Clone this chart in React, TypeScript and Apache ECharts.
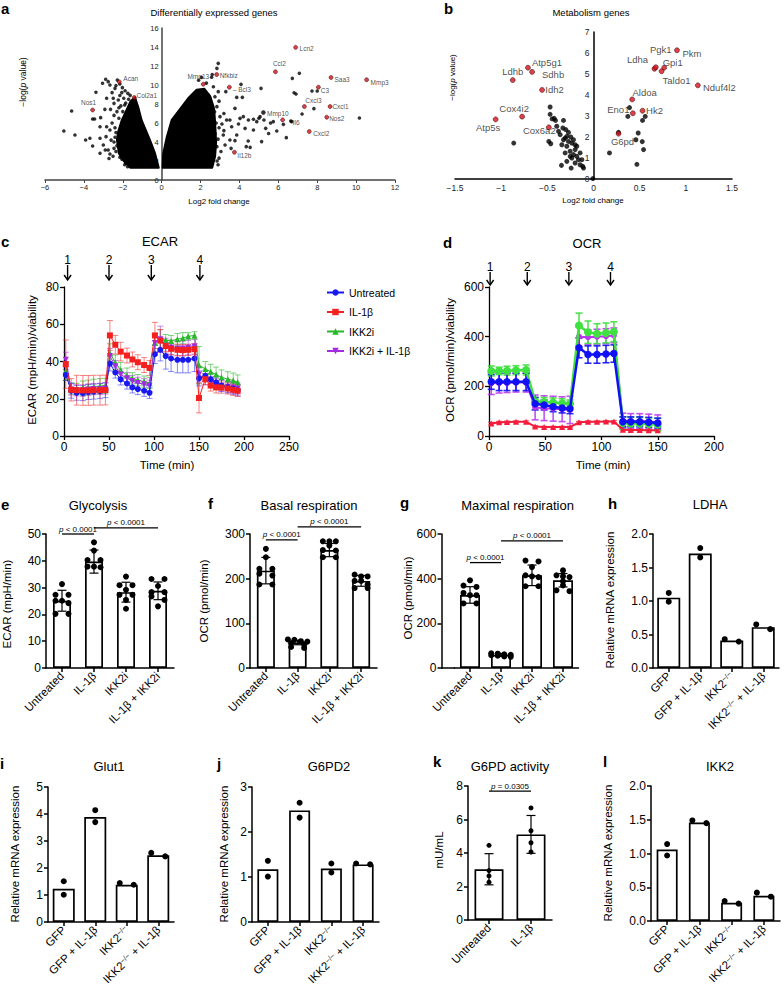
import React, { useEffect, useRef } from "react";
import * as echarts from "echarts";

const FONT = '"Liberation Sans", Arial, Helvetica, sans-serif';

// ================= a: Differentially expressed genes =================
const aDenseLeft = [
  [-0.15, 1.3], [-0.34, 2.8], [-0.6, 4.2], [-1.03, 6.3], [-1.21, 7.7], [-1.37, 8.7],
  [-1.6, 8.3], [-1.8, 7.4], [-2.05, 6.3], [-2.25, 5.0], [-2.3, 4.2], [-2.2, 2.8], [-1.95, 2.0], [-1.62, 1.3],
];
const aDenseRight = [
  [0.05, 1.3], [0.08, 2.8], [0.26, 4.5], [0.51, 6.3], [1.03, 7.7], [1.4, 8.7], [1.8, 9.5],
  [2.2, 9.6], [2.5, 8.8], [2.7, 7.5], [2.75, 6.0], [2.8, 4.0], [2.75, 2.5], [2.6, 1.3],
];
const aBackgroundGenes = [
  [-5.03, 5.16], [-4.63, 7.26], [-4.46, 4.74], [-3.91, 4.21], [-3.69, 4.39], [-3.55, 3.58],
  [-3.55, 6.42], [-3.45, 6.42], [-3.14, 6.56], [-3.38, 9.23], [-3.04, 10.18], [-2.88, 10.6],
  [-2.75, 10.35], [-2.66, 10.0], [-2.4, 9.65], [-2.28, 10.53], [-2.02, 9.72], [-1.88, 9.4],
  [-1.74, 9.12], [-1.62, 8.91], [-2.49, 8.6], [-2.23, 8.42], [-2.83, 8.6], [-2.92, 7.44],
  [-2.63, 7.44], [-2.45, 8.07], [-3.17, 5.61], [-2.83, 5.61], [-2.66, 5.26], [-2.86, 4.56],
  [-3.17, 4.39], [-3.0, 3.68], [-2.75, 3.16], [-2.66, 2.74], [-2.45, 3.33], [-2.9, 3.16],
  [-3.17, 2.81], [-2.71, 2.26], [-2.5, 2.5], [-2.45, 6.8], [-2.3, 7.2], [-2.55, 6.0],
  [-2.4, 5.5], [-2.6, 4.2], [-2.45, 4.0], [-2.35, 3.0], [-2.05, 2.2], [-1.85, 1.8],
  [-2.15, 8.9], [-1.95, 8.6], [-2.1, 7.8], [-1.9, 7.9], [-2.2, 7.6], [-2.05, 9.2],
  [-2.55, 9.2], [-2.15, 10.1], [-2.35, 9.95], [-1.7, 8.5], [-2.35, 5.0], [-2.4, 4.5],
  [-2.3, 3.6], [-2.15, 2.4], [-1.9, 1.6], [-1.75, 1.4], [-2.2, 6.5], [-2.0, 7.2], [-1.85, 8.1],
  [2.91, 12.28], [2.84, 11.75], [2.57, 10.81], [4.08, 10.07], [3.86, 8.7], [4.15, 8.7],
  [2.66, 9.82], [2.91, 9.3], [2.74, 8.77], [2.4, 8.95], [2.48, 8.07], [2.84, 7.72],
  [2.72, 7.19], [3.0, 6.67], [2.4, 6.67], [3.34, 6.32], [3.51, 6.32], [3.77, 7.54],
  [4.03, 6.49], [4.2, 6.67], [4.46, 6.32], [4.72, 6.39], [4.89, 6.14], [5.06, 6.67],
  [5.11, 9.65], [4.29, 5.44], [3.86, 4.74], [3.51, 4.21], [3.77, 4.14], [3.17, 4.74],
  [3.26, 3.68], [2.84, 3.51], [3.57, 3.33], [4.35, 3.51], [4.55, 3.44], [4.72, 5.26],
  [2.95, 5.5], [3.1, 5.9], [2.9, 4.3], [3.05, 3.0], [2.95, 2.3], [3.2, 5.2], [2.3, 10.2],
  [2.6, 11.1], [2.05, 10.8], [1.9, 10.5], [2.95, 8.3], [3.2, 7.0], [3.6, 5.6], [3.95, 5.9],
  [4.45, 4.1], [3.3, 9.3], [2.85, 2.0], [2.9, 1.6], [2.8, 6.0], [2.75, 4.9],
  [7.08, 11.23], [6.72, 10.7], [7.73, 9.37], [8.0, 9.37], [6.81, 9.19], [6.91, 9.05],
  [7.83, 7.51], [10.17, 6.53], [7.22, 6.95], [6.64, 6.21], [6.26, 5.86], [6.41, 4.46],
  [5.92, 5.16], [5.35, 5.44], [5.26, 6.32], [5.14, 4.04], [5.0, 6.5], [5.6, 6.0], [5.5, 4.9],
  [5.74, 6.14], [6.69, 6.14],
];
const aGeneNames = ["Lcn2", "Ccl2", "Saa3", "Mmp3", "C3", "Cxcl3", "Cxcl1", "Nos2", "Il6", "Cxcl2", "Mmp10", "Mmp13", "Nfkbiz", "Bcl3", "Il12b", "Nos1", "Acan", "Col2a1"];
const aGeneLog2FC = [6.89, 5.85, 8.71, 10.54, 8.06, 7.34, 8.66, 8.49, 6.22, 7.59, 5.23, 2.14, 2.83, 3.48, 3.74, -3.55, -2.18, -1.41];
const aGeneNegLogP = [13.96, 11.39, 10.79, 10.55, 9.77, 7.73, 7.73, 6.61, 6.33, 5.1, 7.1, 10.09, 11.1, 9.77, 2.92, 7.37, 10.33, 8.68];
const aUnhighlighted = ["Mmp10"];

// ================= b: Metabolism genes =================
const bBackgroundGenes = [
  [-0.47, 3.43], [-0.47, 3.08], [-0.448, 2.86], [-0.426, 2.89], [-0.412, 2.79], [-0.325, 2.79],
  [-0.332, 2.43], [-0.3, 2.35], [-0.379, 2.27], [-0.361, 2.11], [-0.289, 2.03], [-0.246, 2.0],
  [-0.325, 1.87], [-0.271, 1.79], [-0.235, 1.71], [-0.343, 1.63], [-0.289, 1.56], [-0.307, 1.24],
  [-0.253, 1.32], [-0.199, 1.4], [-0.217, 1.16], [-0.181, 1.08], [-0.235, 1.0], [-0.163, 0.92],
  [-0.289, 0.84], [-0.199, 0.76], [-0.145, 0.68], [-0.116, 0.6], [-0.108, 0.52], [-0.242, 0.52],
  [-0.347, 0.65], [-0.484, 1.79], [-0.463, 1.68], [-0.864, 1.71], [-0.007, 0.02],
  [-0.271, 2.22], [-0.217, 1.87], [-0.181, 1.56], [-0.145, 1.24], [-0.126, 0.92], [-0.253, 1.08],
  [-0.307, 1.95], [-0.398, 2.51], [-0.2, 1.63],
  [0.39, 3.4], [0.372, 2.98], [0.56, 2.98], [0.531, 2.79], [0.271, 2.22], [0.484, 2.19],
  [0.459, 1.87], [0.528, 1.78], [0.542, 1.4], [0.173, 1.24], [0.47, 0.7],
];
const bGeneNames = ["Ldhb", "Atp5g1", "Sdhb", "Idh2", "Cox4i2", "Atp5s", "Cox6a2", "Ldha", "Pgk1", "Gpi1", "Taldo1", "Pkm", "Nduf4l2", "Aldoa", "Eno1", "Hk2", "G6pd"];
const bGeneLog2FC = [-0.875, -0.71, -0.665, -0.557, -0.773, -1.06, -0.484, 0.66, 0.675, 0.766, 0.737, 0.904, 1.13, 0.419, 0.426, 0.531, 0.271];
const bGeneNegLogP = [4.71, 5.3, 5.1, 4.24, 2.97, 2.84, 2.46, 5.25, 5.32, 5.3, 5.13, 6.13, 4.46, 3.79, 3.13, 3.25, 2.16];

// ================= c: ECAR time course =================
const ecarTime = [2, 8, 14, 21, 27, 33, 40, 46, 51, 57, 63, 70, 76, 82, 89, 95, 101, 107, 113, 119, 126, 132, 138, 145, 150, 157, 163, 169, 175, 182, 188, 193];
const ecarUntreated = [32.8, 24.3, 23.2, 23.0, 23.6, 23.8, 24.1, 24.6, 38.9, 34.1, 30.4, 28.2, 26.1, 25.2, 24.3, 23.2, 43.9, 46.3, 42.9, 41.6, 40.9, 40.9, 40.9, 41.6, 30.9, 32.3, 30.4, 28.8, 27.1, 26.1, 25.4, 24.5];
const ecarUntreatedSd = [3, 4, 4, 4, 4, 4, 4, 4, 4, 3, 3, 3, 3, 3, 3, 3, 5, 6, 7, 7, 7, 7, 7, 7, 4, 3, 3, 3, 3, 3, 3, 3];
const ecarIL1b = [38.6, 24.8, 24.6, 24.5, 24.5, 24.6, 24.6, 24.7, 54.0, 49.0, 45.3, 43.2, 41.1, 39.6, 38.1, 36.5, 54.0, 51.2, 48.3, 46.8, 46.3, 46.1, 46.3, 46.6, 20.4, 30.5, 27.1, 26.1, 26.0, 25.5, 24.8, 24.3];
const ecarIL1bSd = [13, 6, 8, 8, 8, 8, 8, 8, 8, 5, 5, 4, 4, 4, 4, 4, 7, 6, 3, 3, 3, 3, 3, 3, 8, 3, 3, 3, 3, 3, 3, 3];
const ecarIKK2i = [35.0, 25.5, 25.3, 25.5, 26.0, 26.5, 26.8, 27.0, 44.5, 39.5, 35.5, 32.5, 31.0, 30.0, 29.2, 28.5, 50.0, 52.0, 51.5, 51.0, 52.0, 52.5, 53.5, 54.0, 38.0, 36.0, 34.5, 33.0, 31.5, 30.5, 29.8, 28.8];
const ecarIKK2iSd = [5, 3, 3, 4, 4, 4, 4, 4, 5, 4, 4, 4, 3, 3, 3, 3, 5, 5, 3, 3, 3, 3, 2, 2, 10, 4, 4, 4, 4, 4, 4, 4];
const ecarCombo = [41.0, 25.0, 24.5, 24.5, 25.0, 25.2, 25.3, 25.5, 43.0, 37.5, 33.0, 31.0, 29.5, 28.5, 27.8, 27.0, 50.0, 52.0, 48.5, 47.5, 47.0, 47.0, 47.5, 48.0, 33.0, 30.5, 29.0, 28.0, 27.0, 26.5, 26.0, 25.5];
const ecarComboSd = [4, 3, 3, 3, 3, 3, 3, 3, 4, 3, 3, 3, 3, 3, 3, 3, 5, 7, 4, 4, 4, 4, 4, 4, 4, 3, 3, 3, 3, 3, 3, 3];
const ecarInjections = [4, 50, 97, 151];
const injectionLabels = ["1", "2", "3", "4"];

// ================= d: OCR time course =================
const ocrTime = [2, 9, 16, 24, 33, 41, 49, 57, 65, 72, 80, 88, 96, 104, 111, 119, 126, 134, 142, 150];
const ocrUntreated = [218, 218, 218, 218, 218, 130, 125, 118, 113, 110, 355, 328, 328, 330, 332, 57, 57, 57, 55, 52];
const ocrUntreatedSd = [30, 35, 35, 35, 35, 25, 20, 20, 20, 20, 40, 35, 35, 35, 35, 20, 20, 20, 20, 20];
const ocrIL1b = [50, 55, 56, 57, 57, 38, 36, 36, 36, 36, 55, 57, 57, 58, 58, 25, 24, 24, 23, 23];
const ocrIL1bSd = [5, 4, 4, 4, 4, 4, 3, 3, 3, 3, 4, 4, 4, 4, 4, 4, 4, 4, 4, 4];
const ocrIKK2i = [262, 262, 263, 265, 266, 140, 137, 135, 132, 130, 445, 418, 412, 415, 420, 52, 50, 50, 48, 46];
const ocrIKK2iSd = [20, 15, 18, 18, 20, 15, 18, 18, 18, 15, 50, 45, 40, 40, 40, 25, 25, 25, 25, 25];
const ocrCombo = [212, 213, 213, 215, 215, 115, 112, 110, 108, 105, 400, 398, 400, 402, 405, 62, 60, 60, 58, 55];
const ocrComboSd = [45, 40, 38, 38, 38, 50, 50, 50, 50, 55, 40, 30, 30, 30, 30, 30, 30, 30, 30, 30];
const ocrInjections = [1, 34, 71, 108];

// ================= e–l: bar panels =================
const treatCats = ["Untreated", "IL-1β", "IKK2i", "IL-1β + IKK2i"];
const genoCats = ["GFP", "GFP + IL-1β", "IKK2−/−", "IKK2−/− + IL-1β"];

const glycoMean = [25.1, 39.7, 28.3, 28.8];
const glycoSd = [3.9, 4.3, 3.7, 3.3];
const glycoPoints = [
  [31.3, 27.3, 27.3, 25.1, 25.1, 24.2, 20.2, 20.2],
  [46.9, 43.8, 40.3, 40.3, 37.8, 37.6, 37.8],
  [34.1, 30.9, 30.9, 29.2, 27.3, 27.3, 25.4, 22.1],
  [33.2, 33.2, 30.6, 28.3, 28.3, 26.7, 25.4, 23.0],
];
const basalMean = [218, 57, 264, 195];
const basalSd = [29.6, 5, 14.8, 12];
const basalPoints = [
  [266.7, 248, 222, 222, 211, 207, 187, 187],
  [64, 63, 60, 59, 56, 53, 47, 45],
  [283.7, 283.7, 283.7, 274, 264, 263, 248, 248],
  [209, 205, 205, 195, 195, 187, 179, 179],
];
const maxMean = [327, 59, 415, 393];
const maxSd = [37, 6, 46, 30];
const maxPoints = [
  [392.6, 369, 363, 336, 326, 326, 289, 289],
  [66, 64, 61, 59, 57, 55, 52, 50],
  [481, 477, 452, 415, 410, 407, 366, 366],
  [437, 415, 410, 407, 388, 370, 348, 344],
];
const ldhaMean = [1.05, 1.71, 0.41, 0.61];
const ldhaPoints = [[1.12, 0.99], [1.79, 1.65], [0.395, 0.43], [0.58, 0.65]];
const glut1Mean = [1.23, 3.89, 1.38, 2.47];
const glut1Points = [[1.51, 1.01], [4.14, 3.7], [1.38, 1.44], [2.43, 2.56]];
const g6pd2Mean = [1.17, 2.48, 1.19, 1.28];
const g6pd2Points = [[1.36, 1.01], [2.65, 2.32], [1.3, 1.1], [1.28, 1.3]];
const g6pdActCats = ["Untreated", "IL-1β"];
const g6pdActMean = [3.03, 5.11];
const g6pdActSd = [0.93, 1.13];
const g6pdActPoints = [[4.46, 2.95, 2.63, 2.26], [6.69, 5.33, 4.61, 4.06]];
const ikk2Mean = [1.06, 1.46, 0.27, 0.375];
const ikk2Points = [[1.14, 0.97], [1.45, 1.49], [0.257, 0.296], [0.36, 0.42]];

const sigBars = [
  { panel: "e", from: 0, to: 1, y: 50, text: "p < 0.0001" },
  { panel: "e", from: 1, to: 3, y: 52.3, text: "p < 0.0001" },
  { panel: "f", from: 0, to: 1, y: 287, text: "p < 0.0001" },
  { panel: "f", from: 1, to: 3, y: 316, text: "p < 0.0001" },
  { panel: "g", from: 0, to: 1, y: 472, text: "p < 0.0001" },
  { panel: "g", from: 1, to: 3, y: 569, text: "p < 0.0001" },
  { panel: "k", from: 0, to: 1, y: 7.7, text: "p = 0.0305" },
];

// ================= layout (label offsets in px) =================
const aLabelOffset: Record<string, number[]> = {
  Lcn2: [11, 1], Ccl2: [4, -8], Saa3: [11, 2], Mmp3: [13, 3], C3: [6.5, 3], Cxcl3: [9, -6],
  Cxcl1: [10.5, 0], Nos2: [10, 1], Il6: [13.5, 3], Cxcl2: [12, 2], Mmp10: [14.5, 1],
  Mmp13: [-5, -8], Nfkbiz: [12, 1], Bcl3: [12.5, 2], Il12b: [10, 3], Nos1: [-4, -7],
  Acan: [11.5, -3], Col2a1: [12.5, -2.5],
};
const aLabelText: Record<string, string> = { Bcl3: "– Bcl3" };
const bLabelOffset: Record<string, number[]> = {
  Ldhb: [0, -9], Atp5g1: [19, -5], Sdhb: [21, 3], Idh2: [12.5, 0], Cox4i2: [-8, -8],
  Atp5s: [-7.5, 8], Cox6a2: [-9.5, 3], Ldha: [-17, -9], Pgk1: [5, -18], Gpi1: [8.5, -5],
  Taldo1: [15, 9], Pkm: [15, 3], Nduf4l2: [21.5, 2], Aldoa: [12.5, -7], Eno1: [-14.5, -3.5],
  Hk2: [12, 0], G6pd: [4, 8],
};

const minus = (v: number) => String(v).replace("-", "−");

function gText(x: number, y: number, text: string, size: number, extra: any = {}) {
  const align = extra.align || "center";
  const va = extra.va || "middle";
  return {
    type: "text",
    x,
    y,
    rotation: extra.rotation || 0,
    silent: true,
    z: 100,
    style: {
      text,
      fill: "#000",
      fontSize: size,
      fontFamily: FONT,
      fontWeight: extra.bold ? "bold" : "normal",
      align,
      verticalAlign: va,
      textAlign: align,
      textVerticalAlign: va,
      rich: extra.rich,
    },
  };
}

function swarm(groups: number[][], thr: number) {
  const out: number[][] = [];
  groups.forEach((vals, ci) => {
    const sorted = [...vals].sort((a, b) => b - a);
    const rows: number[][] = [];
    sorted.forEach((v) => {
      const r = rows[rows.length - 1];
      if (r && r.length < 4 && r[0] - v < thr) r.push(v);
      else rows.push([v]);
    });
    rows.forEach((r) =>
      r.forEach((v, k) => {
        const off = r.length === 2 ? (k === 0 ? -1 : 1) : k - (r.length - 1) / 2;
        out.push([ci, v, off]);
      })
    );
  });
  return out;
}

function buildOption() {
  const grid: any[] = [];
  const xAxis: any[] = [];
  const yAxis: any[] = [];
  const series: any[] = [];
  const graphic: any[] = [];

  const addGrid = (left: number, top: number, width: number, height: number) => {
    grid.push({ left, top, width, height, containLabel: false, outerBoundsMode: "none" });
    return grid.length - 1;
  };
  const blackLine = (w = 1.5, color = "#000") => ({ show: true, lineStyle: { color, width: w } });
  const tick = (len = 4, w = 1.5, color = "#000") => ({ show: true, length: len, lineStyle: { color, width: w } });
  const lab = (size: number, extra: any = {}) => ({ fontSize: size, color: "#000", fontFamily: FONT, margin: 5, ...extra });

  const errSeries = (gi: number, data: number[][], color: string, cap: number, lw: number, z: number) => ({
    type: "custom",
    coordinateSystem: "cartesian2d",
    xAxisIndex: gi,
    yAxisIndex: gi,
    silent: true,
    z,
    data,
    renderItem: (p: any, api: any) => {
      const x = api.value(0), m = api.value(1), e = api.value(2);
      const t = api.coord([x, m + e]);
      const b = api.coord([x, m - e]);
      const st = { stroke: color, lineWidth: lw };
      return {
        type: "group",
        children: [
          { type: "line", shape: { x1: t[0], y1: t[1], x2: b[0], y2: b[1] }, style: st },
          { type: "line", shape: { x1: t[0] - cap / 2, y1: t[1], x2: t[0] + cap / 2, y2: t[1] }, style: st },
          { type: "line", shape: { x1: b[0] - cap / 2, y1: b[1], x2: b[0] + cap / 2, y2: b[1] }, style: st },
        ],
      };
    },
  });

  // ---------- volcano panels ----------
  const volcano = (
    gi: number, dense: number[][][], bg: number[][], names: string[], fc: number[], pv: number[],
    offsets: Record<string, number[]>, bgSize: number, geneSize: number, labelSize: number, texts: Record<string, string>, plain: string[]
  ) => {
    dense.forEach((pts) =>
      series.push({
        type: "custom", coordinateSystem: "cartesian2d", xAxisIndex: gi, yAxisIndex: gi, silent: true, z: 2,
        data: [pts[0]],
        renderItem: (p: any, api: any) => ({
          type: "polygon",
          shape: { points: pts.map((q) => api.coord(q)) },
          style: { fill: "#000", stroke: "#000", lineWidth: 2, lineJoin: "round" },
        }),
      })
    );
    series.push({ type: "scatter", xAxisIndex: gi, yAxisIndex: gi, data: bg, symbolSize: bgSize, silent: true, z: 3, itemStyle: { color: "#000" } });
    series.push({
      type: "scatter", xAxisIndex: gi, yAxisIndex: gi, silent: true, z: 4, symbolSize: geneSize,
      data: names.map((n, i) => ({
        name: n,
        value: [fc[i], pv[i]],
        itemStyle: { color: plain.includes(n) ? "#000" : "#d4121c", borderColor: "#2a0000", borderWidth: 0.6 },
        label: {
          show: true, position: "inside", offset: offsets[n] || [10, 0], formatter: texts[n] || n,
          fontSize: labelSize, color: "#1a1a1a", fontFamily: FONT,
        },
      })),
    });
  };

  // a: x=0 sits 6/18 of 350px from the grid's left edge
  const ga = addGrid(45, 28, 350, 152);
  xAxis.push({
    gridIndex: ga, type: "value", min: -6, max: 12, interval: 2,
    axisLine: { show: true, onZero: false, lineStyle: { color: "#444", width: 1.5 } },
    axisTick: tick(3, 1, "#444"), axisLabel: lab(7.5, { margin: 3, color: "#222", formatter: minus }), splitLine: { show: false },
  });
  yAxis.push({
    gridIndex: ga, type: "value", min: 0, max: 16, interval: 2, offset: -(350 * 6) / 18,
    axisLine: { show: true, onZero: false, lineStyle: { color: "#444", width: 1.5 } },
    axisTick: { show: false }, axisLabel: lab(7.5, { margin: 3, color: "#222" }), splitLine: { show: false },
  });
  volcano(ga, [aDenseLeft, aDenseRight], aBackgroundGenes, aGeneNames, aGeneLog2FC, aGeneNegLogP, aLabelOffset, 3.6, 4, 6.5, aLabelText, aUnhighlighted);

  const gb = addGrid(455, 32, 277, 147);
  xAxis.push({
    gridIndex: gb, type: "value", min: -1.5, max: 1.5, interval: 0.5,
    axisLine: { show: true, onZero: false, lineStyle: { color: "#000", width: 1.5 } },
    axisTick: { show: false }, axisLabel: lab(8.5, { margin: 4, color: "#222", formatter: minus }), splitLine: { show: false },
  });
  yAxis.push({
    gridIndex: gb, type: "value", min: 0, max: 7, interval: 1, offset: -277 / 2,
    axisLine: { show: true, onZero: false, lineStyle: { color: "#000", width: 1.5 } },
    axisTick: { show: false }, axisLabel: lab(8.5, { margin: 4, color: "#222" }), splitLine: { show: false },
  });
  volcano(gb, [], bBackgroundGenes, bGeneNames, bGeneLog2FC, bGeneNegLogP, bLabelOffset, 5, 5, 9.5, {}, []);

  // ---------- time-course panels ----------
  const arrowSeries = (gi: number, times: number[], ymax: number, numDy: number, sTop: number, sBot: number) => ({
    type: "custom", coordinateSystem: "cartesian2d", xAxisIndex: gi, yAxisIndex: gi, silent: true, z: 10, clip: false,
    data: times.map((t) => [t, ymax]),
    renderItem: (p: any, api: any) => {
      const c = api.coord([api.value(0), api.value(1)]);
      const x = c[0], y0 = c[1];
      return {
        type: "group",
        children: [
          {
            type: "text",
            style: {
              text: injectionLabels[p.dataIndex], x, y: y0 + numDy, fill: "#000", fontSize: 12, fontFamily: FONT,
              align: "center", verticalAlign: "middle", textAlign: "center", textVerticalAlign: "middle",
            },
          },
          { type: "line", shape: { x1: x, y1: y0 + sTop, x2: x, y2: y0 + sBot }, style: { stroke: "#000", lineWidth: 1.4 } },
          {
            type: "polyline",
            shape: { points: [[x - 3.5, y0 + sBot - 5], [x, y0 + sBot], [x + 3.5, y0 + sBot - 5]] },
            style: { stroke: "#000", lineWidth: 1.4, fill: null },
          },
        ],
      };
    },
  });

  const timePanel = (gi: number, time: number[], defs: any[]) => {
    defs.forEach((d, k) => {
      series.push(errSeries(gi, time.map((t, i) => [t, d.vals[i], d.sd[i]]), d.err, d.cap, d.errW, 3 + k));
    });
    defs.forEach((d, k) => {
      series.push({
        type: "line", name: d.name, xAxisIndex: gi, yAxisIndex: gi, silent: true, z: 8 + k,
        data: time.map((t, i) => [t, d.vals[i]]),
        symbol: d.symbol, symbolSize: d.size, symbolRotate: d.rot || 0, showSymbol: true,
        lineStyle: { color: d.color, width: d.lw }, itemStyle: { color: d.color },
      });
    });
  };

  const gc = addGrid(64, 287, 225, 149);
  xAxis.push({ gridIndex: gc, type: "value", min: 0, max: 250, interval: 50, axisLine: blackLine(1.3), axisTick: tick(4, 1.3), axisLabel: lab(12), splitLine: { show: false } });
  yAxis.push({ gridIndex: gc, type: "value", min: 0, max: 80, interval: 20, axisLine: blackLine(1.3), axisTick: tick(4, 1.3), axisLabel: lab(12), splitLine: { show: false } });
  timePanel(gc, ecarTime, [
    { name: "IKK2i", vals: ecarIKK2i, sd: ecarIKK2iSd, color: "#29b829", err: "rgba(41,184,41,0.6)", symbol: "triangle", size: 6, lw: 1, cap: 6, errW: 1 },
    { name: "IKK2i + IL-1β", vals: ecarCombo, sd: ecarComboSd, color: "#a62ae0", err: "rgba(166,42,224,0.55)", symbol: "triangle", rot: 180, size: 6, lw: 1, cap: 6, errW: 1 },
    { name: "Untreated", vals: ecarUntreated, sd: ecarUntreatedSd, color: "#1818f0", err: "rgba(24,24,240,0.5)", symbol: "circle", size: 6, lw: 1, cap: 6, errW: 1 },
    { name: "IL-1β", vals: ecarIL1b, sd: ecarIL1bSd, color: "#f42020", err: "rgba(244,32,32,0.55)", symbol: "rect", size: 6, lw: 1, cap: 6, errW: 1 },
  ]);
  series.push(arrowSeries(gc, ecarInjections, 80, -27, -22, -7));

  const gd = addGrid(489, 287, 225, 149);
  xAxis.push({ gridIndex: gd, type: "value", min: 0, max: 200, interval: 50, axisLine: blackLine(1.3), axisTick: tick(4, 1.3), axisLabel: lab(12), splitLine: { show: false } });
  yAxis.push({ gridIndex: gd, type: "value", min: 0, max: 600, interval: 200, axisLine: blackLine(1.3), axisTick: tick(4, 1.3), axisLabel: lab(12), splitLine: { show: false } });
  timePanel(gd, ocrTime, [
    { name: "OCR IL-1β", vals: ocrIL1b, sd: ocrIL1bSd, color: "#f41c3c", err: "rgba(244,28,60,0.7)", symbol: "triangle", size: 6, lw: 2, cap: 6, errW: 1.3 },
    { name: "OCR IKK2i + IL-1β", vals: ocrCombo, sd: ocrComboSd, color: "#b935ee", err: "rgba(185,53,238,0.85)", symbol: "circle", size: 6, lw: 2, cap: 7, errW: 1.6 },
    { name: "OCR IKK2i", vals: ocrIKK2i, sd: ocrIKK2iSd, color: "#3fe03f", err: "rgba(63,224,63,0.9)", symbol: "circle", size: 8, lw: 2.5, cap: 7, errW: 1.6 },
    { name: "OCR Untreated", vals: ocrUntreated, sd: ocrUntreatedSd, color: "#1010f5", err: "rgba(16,16,245,0.9)", symbol: "circle", size: 7.5, lw: 2.5, cap: 7, errW: 1.6 },
  ]);
  series.push(arrowSeries(gd, ocrInjections, 600, -20, -15, -2));

  // ---------- bar panels ----------
  const barPanel = (cfg: any) => {
    const gi = addGrid(cfg.left, cfg.top, cfg.width, cfg.height);
    xAxis.push({
      gridIndex: gi, type: "category", data: cfg.cats,
      axisLine: blackLine(1.5), axisTick: { show: true, alignWithLabel: true, length: 4, lineStyle: { color: "#000", width: 1.5 } },
      axisLabel: lab(11.5, {
        rotate: 45, interval: 0, margin: 6,
        formatter: (v: string) => v.replace("−/−", "{s|−/−}"),
        rich: { s: { fontSize: 7.5, fontFamily: FONT, color: "#000", verticalAlign: "top" } },
      }),
    });
    yAxis.push({
      gridIndex: gi, type: "value", min: 0, max: cfg.max, interval: cfg.interval, offset: cfg.yOffset || 0,
      axisLine: blackLine(1.5), axisTick: tick(4, 1.5),
      axisLabel: lab(12, { formatter: (v: number) => (cfg.decimals ? v.toFixed(cfg.decimals) : String(v)) }),
      splitLine: { show: false },
    });
    series.push({
      type: "bar", xAxisIndex: gi, yAxisIndex: gi, data: cfg.mean, barWidth: cfg.barW, silent: true, z: 2,
      itemStyle: { color: "#fff", borderColor: "#000", borderWidth: 1.7 },
    });
    if (cfg.sd) series.push(errSeries(gi, cfg.mean.map((m: number, i: number) => [i, m, cfg.sd[i]]), "#000", 9, 1.2, 3));
    const thr = (cfg.thrPx * cfg.max) / cfg.height;
    const step = cfg.step;
    const r = cfg.dotR;
    series.push({
      type: "custom", coordinateSystem: "cartesian2d", xAxisIndex: gi, yAxisIndex: gi, silent: true, z: 4,
      data: swarm(cfg.pts, thr),
      renderItem: (p: any, api: any) => {
        const c = api.coord([api.value(0), api.value(1)]);
        return { type: "circle", shape: { cx: c[0] + api.value(2) * step, cy: c[1], r }, style: { fill: "#000" } };
      },
    });
    const sigs = sigBars.filter((s) => s.panel === cfg.id);
    if (sigs.length) {
      series.push({
        type: "custom", coordinateSystem: "cartesian2d", xAxisIndex: gi, yAxisIndex: gi, silent: true, z: 6, clip: false,
        data: sigs.map((s) => [s.from, s.to, s.y]),
        renderItem: (p: any, api: any) => {
          const a = api.coord([api.value(0), api.value(2)]);
          const b = api.coord([api.value(1), api.value(2)]);
          const s = sigs[p.dataIndex];
          return {
            type: "group",
            children: [
              { type: "line", shape: { x1: a[0], y1: a[1], x2: b[0], y2: b[1] }, style: { stroke: "#000", lineWidth: 1.3 } },
              {
                type: "text",
                style: {
                  text: s.text.replace(/^p/, "{i|p}"), x: (a[0] + b[0]) / 2, y: a[1] - 1,
                  align: "center", verticalAlign: "bottom", textAlign: "center", textVerticalAlign: "bottom",
                  fontSize: 8, fontFamily: FONT, fill: "#000",
                  rich: { i: { fontStyle: "italic", fontSize: 8, fontFamily: FONT, fill: "#000", color: "#000" } },
                },
              },
            ],
          };
        },
      });
    }
    return gi;
  };

  barPanel({ id: "e", left: 46, top: 534, width: 128, height: 134, cats: treatCats, mean: glycoMean, sd: glycoSd, pts: glycoPoints, max: 50, interval: 10, barW: 18, dotR: 3, step: 6.5, thrPx: 4 });
  barPanel({ id: "f", left: 250, top: 534, width: 127, height: 134, cats: treatCats, mean: basalMean, sd: basalSd, pts: basalPoints, max: 300, interval: 100, barW: 18, dotR: 3, step: 6.5, thrPx: 4 });
  barPanel({ id: "g", left: 454.5, top: 534, width: 124, height: 134, cats: treatCats, mean: maxMean, sd: maxSd, pts: maxPoints, max: 600, interval: 200, barW: 20, dotR: 3, step: 6.5, thrPx: 4, yOffset: 13 });
  barPanel({ id: "h", left: 653, top: 534, width: 126, height: 134, cats: genoCats, mean: ldhaMean, pts: ldhaPoints, max: 2, interval: 0.5, decimals: 1, barW: 23, dotR: 3, step: 7, thrPx: 6 });
  barPanel({ id: "i", left: 48, top: 787, width: 126, height: 135, cats: genoCats, mean: glut1Mean, pts: glut1Points, max: 5, interval: 1, barW: 22, dotR: 3, step: 7, thrPx: 6 });
  barPanel({ id: "j", left: 252, top: 787, width: 127, height: 135, cats: genoCats, mean: g6pd2Mean, pts: g6pd2Points, max: 3, interval: 1, barW: 21, dotR: 3, step: 7, thrPx: 6 });
  barPanel({ id: "k", left: 468, top: 786, width: 84, height: 134, cats: g6pdActCats, mean: g6pdActMean, sd: g6pdActSd, pts: g6pdActPoints, max: 8, interval: 2, barW: 29, dotR: 2.5, step: 6, thrPx: 4 });
  barPanel({ id: "l", left: 651, top: 786, width: 129, height: 135, cats: genoCats, mean: ikk2Mean, pts: ikk2Points, max: 2, interval: 0.5, decimals: 1, barW: 21, dotR: 3, step: 7, thrPx: 6 });

  // x-axis continuation for g (axis offset)
  graphic.push({ type: "line", silent: true, shape: { x1: 441, y1: 668, x2: 455, y2: 668 }, style: { stroke: "#000", lineWidth: 1.5 } });

  // ---------- texts ----------
  const italicP = (size: number) => ({ i: { fontStyle: "italic", fontSize: size, fontFamily: FONT, fill: "#000" } });
  const letters: [string, number, number][] = [
    ["a", 1, 8], ["b", 444, 8], ["c", 1, 241], ["d", 443, 242], ["e", 1, 504], ["f", 208, 503],
    ["g", 400, 502], ["h", 608, 503], ["i", 0, 763], ["j", 217, 763], ["k", 433, 761], ["l", 603, 761],
  ];
  letters.forEach(([t, x, y]) => graphic.push(gText(x, y, t, 15, { bold: true, align: "left" })));

  const titles: [string, number, number, number][] = [
    ["Differentially expressed genes", 214, 12.5, 9.5], ["Metabolism genes", 591, 12.5, 9.5],
    ["ECAR", 160, 241, 13], ["OCR", 587, 243, 13],
    ["Glycolysis", 98, 505, 13], ["Basal respiration", 309, 505, 13], ["Maximal respiration", 517.5, 505, 13], ["LDHA", 710, 504, 13],
    ["Glut1", 109, 766, 13], ["G6PD2", 329, 766, 13], ["G6PD activity", 510, 766, 13], ["IKK2", 720, 766, 13],
  ];
  titles.forEach(([t, x, y, s]) => graphic.push(gText(x, y, t, s)));

  const R = Math.PI / 2;
  graphic.push(gText(219, 201, "Log2 fold change", 8));
  graphic.push(gText(23, 82, "−log({i|p} value)", 8.5, { rotation: R, rich: italicP(8.5) }));
  graphic.push(gText(593, 200.5, "Log2 fold change", 8));
  graphic.push(gText(452, 77.5, "−log({i|p} value)", 8, { rotation: R, rich: italicP(8) }));
  graphic.push(gText(167, 465, "Time (min)", 11.5));
  graphic.push(gText(31.5, 360, "ECAR (mpH/min)/viability", 11.5, { rotation: R }));
  graphic.push(gText(603, 465, "Time (min)", 11.5));
  graphic.push(gText(450, 360, "OCR (pmol/min)/viability", 11.5, { rotation: R }));
  graphic.push(gText(7, 604, "ECAR (mpH/min)", 11.5, { rotation: R }));
  graphic.push(gText(204, 601, "OCR (pmol/min)", 11.5, { rotation: R }));
  graphic.push(gText(407.5, 598, "OCR (pmol/min)", 11.5, { rotation: R }));
  graphic.push(gText(610, 600, "Relative mRNA expression", 11.5, { rotation: R }));
  graphic.push(gText(15, 854, "Relative mRNA expression", 11.5, { rotation: R }));
  graphic.push(gText(224, 854, "Relative mRNA expression", 11.5, { rotation: R }));
  graphic.push(gText(439, 850, "mU/mL", 11.5, { rotation: R }));
  graphic.push(gText(608, 853, "Relative mRNA expression", 11.5, { rotation: R }));

  return {
    animation: false,
    backgroundColor: "#fff",
    textStyle: { fontFamily: FONT },
    grid,
    xAxis,
    yAxis,
    series,
    graphic,
    legend: {
      data: ["Untreated", "IL-1β", "IKK2i", "IKK2i + IL-1β"],
      orient: "vertical",
      left: 326,
      top: 287,
      padding: 0,
      itemWidth: 17,
      itemHeight: 8,
      itemGap: 8.5,
      selectedMode: false,
      textStyle: { fontSize: 10.5, fontFamily: FONT, color: "#000" },
    },
  };
}

export default function App() {
  const ref = useRef<HTMLDivElement>(null);
  useEffect(() => {
    if (!ref.current) return;
    const chart = echarts.init(ref.current, undefined, { renderer: "svg" });
    chart.setOption(buildOption() as any);
    return () => chart.dispose();
  }, []);
  return <div ref={ref} style={{ position: "absolute", left: 0, top: 0, width: 784, height: 990, background: "#fff" }} />;
}
